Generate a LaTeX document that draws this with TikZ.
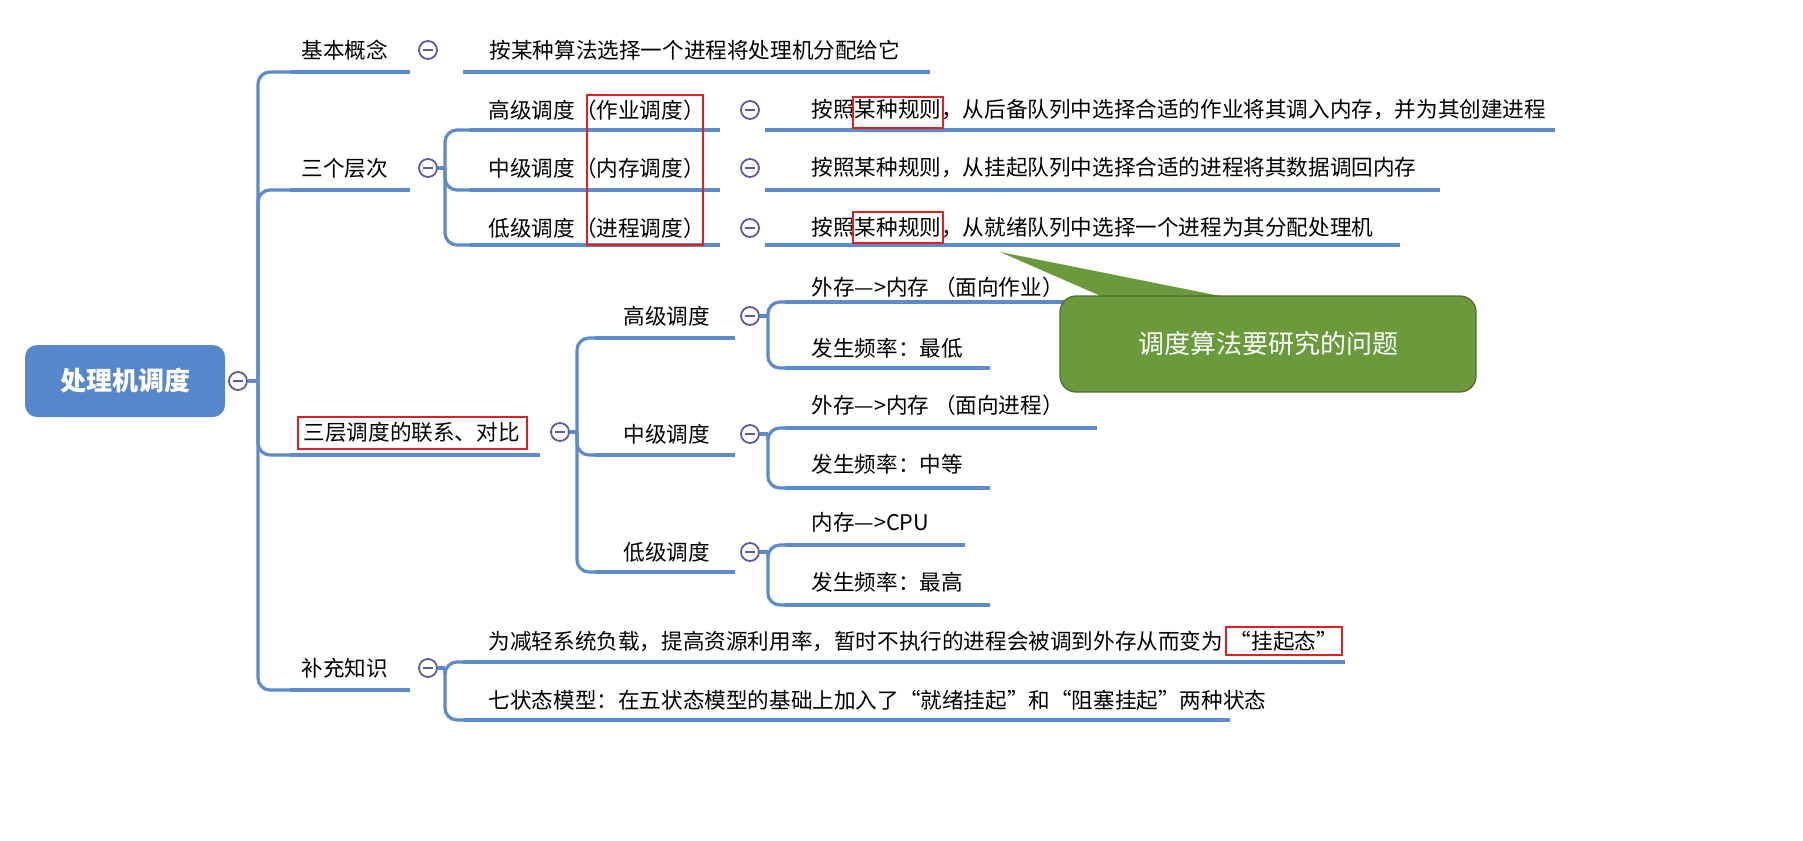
\documentclass[tikz,border=0pt]{standalone}
\usepackage{fontspec}
\setmainfont{Noto Sans CJK SC}
\usetikzlibrary{positioning}
\definecolor{linkblue}{HTML}{5B8BCB}
\definecolor{rootblue}{HTML}{5686CC}
\definecolor{calloutgreen}{HTML}{6B9A3C}
\definecolor{markred}{HTML}{E02020}
\begin{document}
\begin{tikzpicture}[x=0.5pt, y=-0.5pt, line width=1.6pt,
    txt/.style = {anchor=west, font=\fontsize{10.8}{12}\selectfont, inner sep=0pt},
    fold/.style = {draw=gray!70!blue, line width=0.9pt, circle, minimum size=9pt, inner sep=0pt,
                   path picture={\draw[gray!70!blue, line width=0.9pt] ([xshift=-2.5pt]path picture bounding box.center) -- ([xshift=2.5pt]path picture bounding box.center);}},
    link/.style = {draw=linkblue, rounded corners=6pt},
    ul/.style = {draw=linkblue},
    redbox/.style = {draw=markred, line width=1.3pt}]
\useasboundingbox (0,0) rectangle (1803,840);
% root
\node[fill=rootblue, rounded corners=6pt, minimum width=100pt, minimum height=36pt,
      text=white, font=\fontsize{13}{14}\bfseries\selectfont] (root) at (125,381) {处理机调度};
\node[fold] (rc) at (238,381) {};
% first level
\node[txt] (basic) at (300,50) {基本概念};
\node[txt] (level) at (300,168) {三个层次};
\node[txt] (relate) at (302,432) {三层调度的联系、对比};
\node[txt] (extra) at (300,668) {补充知识};
\draw[ul] (rc.east) -- (258,381);
\foreach \y in {72,190,455,690} \path[link] (258,381) |- (300,\y);
\draw[ul] (290,72) -- (410,72) (290,190) -- (410,190) (290,455) -- (540,455) (290,690) -- (410,690);
\node[fold] (bc) at (428,50) {};
\node[fold] (lc) at (428,168) {};
\node[fold] (rcc) at (560,432) {};
\node[fold] (ec) at (428,668) {};
% basic concept
\node[txt] (basicleaf) at (488,50) {按某种算法选择一个进程将处理机分配给它};
\draw[ul] (463,72) -- (930,72);
% three levels
\node[txt] (high) at (487,110) {高级调度（作业调度）};
\node[txt] (mid) at (487,168) {中级调度（内存调度）};
\node[txt] (low) at (487,228) {低级调度（进程调度）};
\draw[ul] (lc.east) -- (445,168);
\foreach \y in {130,190,245} {
  \path[link] (445,168) |- (480,\y);
  \draw[ul] (470,\y) -- (720,\y);
}
\node[fold] (hc) at (750,110) {};
\node[fold] (mc) at (750,168) {};
\node[fold] (lowc) at (750,228) {};
\node[txt] (highleaf) at (810,110) {按照某种规则，从后备队列中选择合适的作业将其调入内存，并为其创建进程};
\node[txt] (midleaf) at (810,168) {按照某种规则，从挂起队列中选择合适的进程将其数据调回内存};
\node[txt] (lowleaf) at (810,228) {按照某种规则，从就绪队列中选择一个进程为其分配处理机};
\draw[ul] (765,130) -- (1555,130) (765,190) -- (1440,190) (765,245) -- (1400,245);
% relation and contrast
\node[txt] (rhigh) at (622,316) {高级调度};
\node[txt] (rmid) at (622,434) {中级调度};
\node[txt] (rlow) at (622,552) {低级调度};
\draw[ul] (rcc.east) -- (577,432);
\foreach \y in {338,455,572} {
  \path[link] (577,432) |- (600,\y);
  \draw[ul] (595,\y) -- (735,\y);
}
\node[fold] (rhc) at (750,316) {};
\node[fold] (rmc) at (750,434) {};
\node[fold] (rlc) at (750,552) {};
\node[txt] (h1) at (810,287) {外存—>内存 （面向作业）};
\node[txt] (h2) at (810,348) {发生频率：最低};
\node[txt] (m1) at (810,405) {外存—>内存 （面向进程）};
\node[txt] (m2) at (810,464) {发生频率：中等};
\node[txt] (l1) at (810,522) {内存—>CPU};
\node[txt] (l2) at (810,582) {发生频率：最高};
\foreach \c/\a/\b/\ea/\eb in {rhc/302/368/1070/990, rmc/428/488/1097/990, rlc/545/605/965/990} {
  \draw[ul] (\c.east) -- ++(8,0) coordinate (j);
  \path[link] (j) |- (790,\a);
  \path[link] (j) |- (790,\b);
  \draw[ul] (785,\a) -- (\ea,\a) (785,\b) -- (\eb,\b);
}
% extra knowledge
\node[txt] (e1) at (487,641) {为减轻系统负载，提高资源利用率，暂时不执行的进程会被调到外存从而变为};
\node[txt, redbox, inner sep=2pt, right=0pt of e1] (suspend) {“挂起态”};
\node[txt] (e2) at (487,700) {七状态模型：在五状态模型的基础上加入了“就绪挂起”和“阻塞挂起”两种状态};
\draw[ul] (ec.east) -- (445,668);
\foreach \y in {662,720} \path[link] (445,668) |- (470,\y);
\draw[ul] (463,662) -- (1345,662) (463,720) -- (1230,720);
% red marks
\draw[redbox] (587,95) rectangle (703,245);
\draw[redbox] (853,97) rectangle (943,128);
\draw[redbox] (853,212) rectangle (943,243);
\draw[redbox] (298,417) rectangle (527,449);
% callout
\fill[calloutgreen] (1110,300) -- (1000,252) -- (1240,300) -- cycle;
\node[fill=calloutgreen, draw=calloutgreen!70!black, line width=0.6pt, rounded corners=8pt,
      minimum width=208pt, minimum height=48pt, text=white, font=\fontsize{13}{15}\selectfont]
      (callout) at (1268,344) {调度算法要研究的问题};
\end{tikzpicture}
\end{document}
